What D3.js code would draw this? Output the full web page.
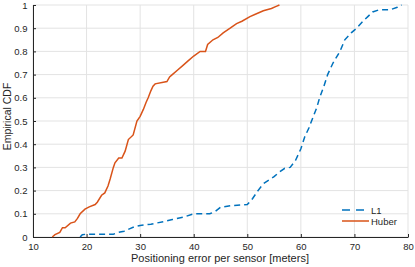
<!DOCTYPE html>
<html>
<head>
<meta charset="utf-8">
<script src="https://cdn.jsdelivr.net/npm/d3@7"></script>
<style>
  body { margin: 0; background: #fff; }
  text { font-family: "Liberation Sans", Arial, sans-serif; fill: #262626; }
</style>
</head>
<body>
<script>
// Huber CDF (error in meters, cumulative fraction)
let huberX = [13.6,14.1,15,15.5,16,17,17.8,18.3,18.8,19.7,20.5,21.6,22,22.8,23.4,24,24.4,25,25.3,26,26.6,27.2,27.8,28.7,29.4,30,30.6,31.1,31.5,32,32.4,32.8,35,35.5,36,37,38,39,40,41.2,42.2,42.6,43.6,44.5,45.5,46.8,48,49,50.5,51.5,53,54.5,55.5,56]
let huberY = [0,0.01,0.02,0.04,0.04,0.06,0.065,0.08,0.1,0.12,0.13,0.14,0.15,0.18,0.19,0.22,0.25,0.3,0.32,0.34,0.34,0.37,0.42,0.44,0.5,0.52,0.55,0.58,0.6,0.63,0.65,0.66,0.67,0.69,0.7,0.72,0.74,0.76,0.78,0.8,0.8,0.83,0.85,0.86,0.88,0.9,0.92,0.93,0.95,0.96,0.975,0.985,0.995,1]
// L1 CDF
let l1X = [18.8,19.2,20,22,25,26,27,28,29,30,32,34.3,36,38,40,42,43,44,45,47,50,51,52,53,55,56,57,58,59,60,60.7,61.5,62,63,63.5,64.3,65,66,67.3,68.2,69.4,70.4,71.6,72.5,73.4,74.7,76.7,78,78.8]
let l1Y = [0,0.01,0.012,0.012,0.012,0.02,0.025,0.035,0.045,0.05,0.055,0.066,0.075,0.085,0.1,0.1,0.1,0.11,0.128,0.135,0.14,0.166,0.2,0.23,0.26,0.28,0.296,0.3,0.33,0.38,0.43,0.47,0.5,0.56,0.6,0.65,0.7,0.75,0.8,0.85,0.88,0.9,0.93,0.95,0.97,0.98,0.98,0.99,1]
let xTicks = [10,20,30,40,50,60,70,80]
let yTicks = [0,0.1,0.2,0.3,0.4,0.5,0.6,0.7,0.8,0.9,1]
let seriesNames = ["L1","Huber"]

let W = 415, H = 267
let margin = {left:33, right:7, top:5, bottom:30}
let w = W - margin.left - margin.right
let h = H - margin.top - margin.bottom

let svg = d3.select("body").append("svg").attr("width",W).attr("height",H)
let g = svg.append("g").attr("transform","translate("+margin.left+","+margin.top+")")

let x = d3.scaleLinear().domain([10,80]).range([0,w])
let y = d3.scaleLinear().domain([0,1]).range([h,0])

// grid
g.append("g").selectAll("line").data(xTicks).enter().append("line")
  .attr("x1",d=>x(d)).attr("x2",d=>x(d)).attr("y1",0).attr("y2",h)
  .attr("stroke","#e3e3e3").attr("stroke-width",1)
g.append("g").selectAll("line").data(yTicks).enter().append("line")
  .attr("x1",0).attr("x2",w).attr("y1",d=>y(d)).attr("y2",d=>y(d))
  .attr("stroke","#e3e3e3").attr("stroke-width",1)

// axes (ticks pointing inward)
let xAxis = g.append("g").attr("transform","translate(0,"+h+")")
  .call(d3.axisBottom(x).tickValues(xTicks).tickSizeInner(-3).tickSizeOuter(0).tickPadding(6))
let yAxis = g.append("g")
  .call(d3.axisLeft(y).tickValues(yTicks).tickSizeInner(-3).tickSizeOuter(0).tickPadding(5.5).tickFormat(d3.format("")))
;[xAxis,yAxis].forEach(a=>{
  a.selectAll("path,line").attr("stroke","#262626")
  a.selectAll("text").style("font-size","9.5px").attr("fill","#262626")
})

// series
let line = d3.line().x(d=>x(d[0])).y(d=>y(d[1]))
let l1 = d3.zip(l1X,l1Y)
let huber = d3.zip(huberX,huberY)

g.append("path").datum(l1).attr("d",line)
  .attr("fill","none").attr("stroke","#0072BD").attr("stroke-width",1.5)
  .attr("stroke-dasharray","6,4")
g.append("path").datum(huber).attr("d",line)
  .attr("fill","none").attr("stroke","#D95319").attr("stroke-width",1.5)

// labels
svg.append("text").attr("x",220).attr("y",H-5)
  .attr("text-anchor","middle").style("font-size","11px")
  .text("Positioning error per sensor [meters]")
svg.append("text").attr("transform","translate(7,116.5) rotate(-90)")
  .attr("text-anchor","middle").attr("dominant-baseline","central").style("font-size","10.5px")
  .text("Empirical CDF")

// legend
let legend = svg.append("g").attr("transform","translate(342,210)")
let styles = [{c:"#0072BD",dash:"8,6"},{c:"#D95319",dash:null}]
seriesNames.forEach((n,i)=>{
  let row = legend.append("g").attr("transform","translate(0,"+(i*11)+")")
  row.append("line").attr("x1",0).attr("x2",27).attr("y1",0).attr("y2",0)
    .attr("stroke",styles[i].c).attr("stroke-width",1.5)
    .attr("stroke-dasharray",styles[i].dash)
  row.append("text").attr("x",29).attr("y",3.5).style("font-size","9.5px").text(n)
})
</script>
</body>
</html>
